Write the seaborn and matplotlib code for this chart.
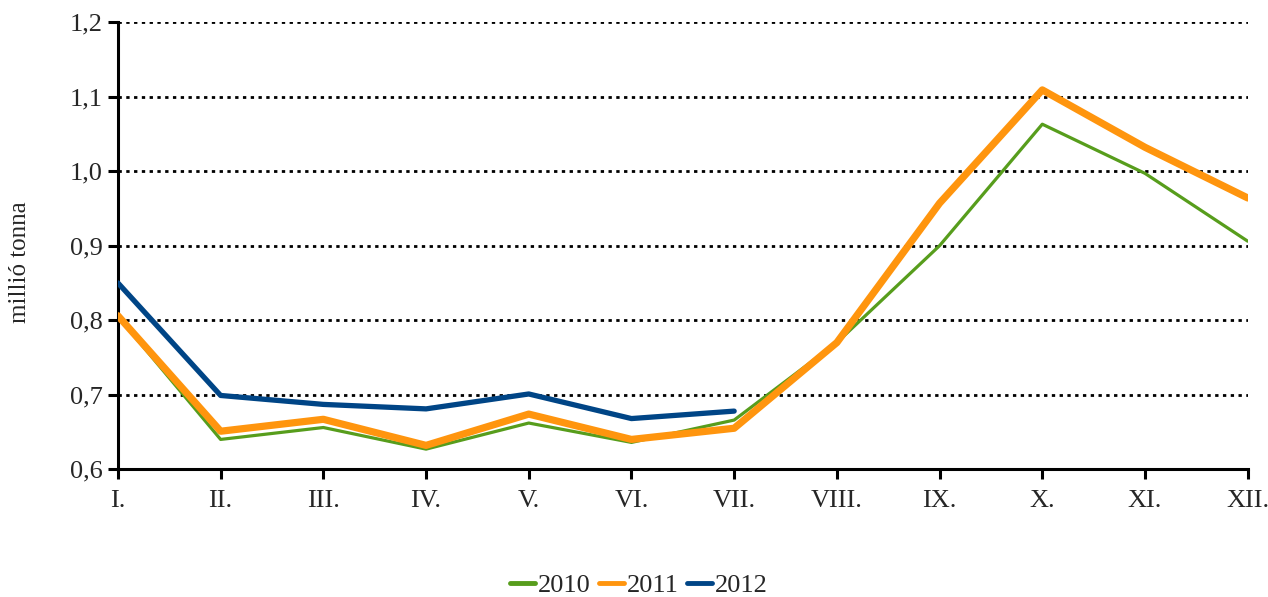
import numpy as np
import pandas as pd
import seaborn as sns
import matplotlib.pyplot as plt

# months (roman numerals) and monthly values, million tonnes
months = ['I.', 'II.', 'III.', 'IV.', 'V.', 'VI.', 'VII.', 'VIII.', 'IX.', 'X.', 'XI.', 'XII.']
y2010 = [0.805, 0.640, 0.656, 0.627, 0.662, 0.636, 0.666, 0.770, 0.900, 1.063, 0.997, 0.906]
y2011 = [0.806, 0.651, 0.667, 0.632, 0.674, 0.640, 0.655, 0.770, 0.957, 1.109, 1.032, 0.964]
y2012 = [0.850, 0.699, 0.687, 0.681, 0.701, 0.668, 0.678]

colors = {'2010': '#579d1c', '2011': '#ff950e', '2012': '#004586'}
widths = {'2010': 2.3, '2011': 5.2, '2012': 3.8}

sns.set_style('white')
plt.rcParams['font.family'] = ['serif']
plt.rcParams['font.serif'] = ['Liberation Serif', 'Times New Roman', 'DejaVu Serif']

rows = []
for year, vals in [('2010', y2010), ('2011', y2011), ('2012', y2012)]:
    for i, v in enumerate(vals):
        rows.append({'pos': i, 'value': v, 'year': year})
df = pd.DataFrame(rows)

fig = plt.figure(figsize=(12.68, 5.97), dpi=100)
ax = fig.add_axes([0.093, 0.214, 0.891, 0.749])

for year in ['2010', '2011', '2012']:
    sub = df[df['year'] == year]
    sns.lineplot(data=sub, x='pos', y='value', ax=ax, color=colors[year],
                 linewidth=widths[year], label=year, sort=False, zorder=3)

ax.set_xlim(0, 11)
ax.set_ylim(0.6, 1.2)
ax.set_xticks(range(len(months)))
ax.set_xticklabels(months)
yt = np.arange(0.6, 1.21, 0.1)
ax.set_yticks(yt)
ax.set_yticklabels([f'{v:.1f}'.replace('.', ',') for v in yt])
ax.set_xlabel('')
ax.set_ylabel('millió tonna', fontsize=18)
ax.yaxis.set_label_coords(-0.077, 0.463)

ax.yaxis.grid(True, linestyle=(0, (1.2, 1.6)), color='black', linewidth=2)
ax.set_axisbelow(True)
for s in ['top', 'right']:
    ax.spines[s].set_visible(False)
for s in ['left', 'bottom']:
    ax.spines[s].set_linewidth(2.2)
    ax.spines[s].set_color('black')
ax.tick_params(axis='both', direction='out', length=7, width=2.2, color='black',
               labelsize=19, bottom=True, left=True)
ax.tick_params(axis='x', pad=8)
ax.tick_params(axis='y', pad=4)

ax.get_legend().remove()
handles, labels = ax.get_legend_handles_labels()
leg = fig.legend(handles, labels, loc='lower center', bbox_to_anchor=(0.504, -0.04), ncol=3,
                 frameon=False, fontsize=19, handlelength=0.95, handletextpad=0.12,
                 columnspacing=0.3)
for ln in leg.get_lines():
    ln.set_linewidth(3.5)

fig.savefig('out.png', dpi=100)
